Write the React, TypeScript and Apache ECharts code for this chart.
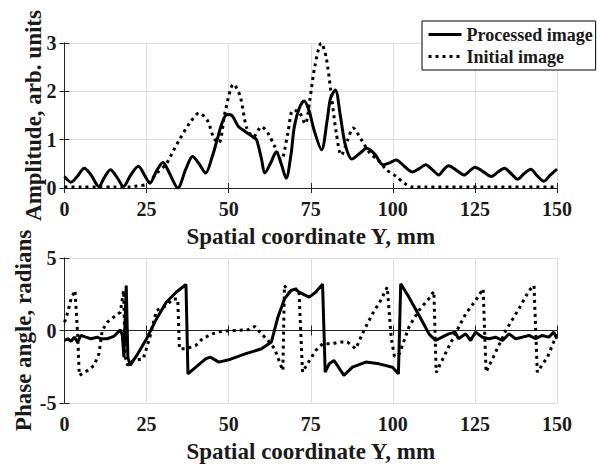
import React, { useEffect, useRef } from "react";
import * as echarts from "echarts";

// Amplitude (top panel): [Y mm, amplitude]
const ampProcessed: number[][] = [
  [0, 0.24], [2, 0.12], [4, 0.25], [6, 0.41], [8, 0.28], [10.5, 0.03], [12, 0.2], [14, 0.38], [16, 0.22],
  [18, 0.03], [20, 0.25], [22.5, 0.45], [24.5, 0.25], [26, 0.1], [28, 0.35], [30, 0.53], [32, 0.3],
  [34.5, 0.0], [37, 0.4], [39, 0.65], [41, 0.5], [43, 0.31], [45, 0.65], [46.5, 1.0], [48, 1.35],
  [49.5, 1.52], [51, 1.5], [53, 1.27], [55, 1.17], [57.5, 1.05], [58.5, 1.0], [60, 0.6], [61, 0.31],
  [63, 0.55], [64.5, 0.75], [66, 0.5], [67.5, 0.2], [69, 0.7], [70, 1.27], [71.5, 1.65], [73, 1.8],
  [74.5, 1.6], [76, 1.2], [78.3, 0.79], [80, 1.4], [81, 1.85], [82.5, 2.03], [84, 1.5], [85.5, 0.9],
  [87.5, 0.6], [90, 0.72], [92, 0.82], [94.5, 0.7], [97, 0.48], [99, 0.52], [101, 0.58], [103.5, 0.45],
  [106, 0.33], [108, 0.4], [110, 0.48], [112, 0.38], [114, 0.27], [115.5, 0.38], [117, 0.46],
  [119.5, 0.36], [121.7, 0.27], [123.5, 0.36], [125, 0.43], [127.5, 0.34], [130, 0.24], [132, 0.33],
  [134, 0.41], [136, 0.3], [138, 0.18], [140, 0.3], [142, 0.39], [144, 0.25], [146, 0.14], [148, 0.27],
  [150, 0.39],
];
const ampInitial: number[][] = [
  [0, 0.02], [5, 0.02], [10, 0.02], [15, 0.02], [20, 0.02], [22, 0.04], [25, 0.08], [28, 0.3], [31, 0.5],
  [33, 0.75], [35, 1.0], [38, 1.33], [41, 1.55], [43.5, 1.4], [45.5, 1.03], [47, 0.93], [49, 1.6],
  [51.5, 2.15], [53.5, 1.9], [55.5, 1.24], [57.5, 1.06], [60, 1.27], [62, 1.13], [64, 0.86], [66, 0.58],
  [68, 1.13], [69.5, 1.6], [71, 1.6], [73.3, 1.33], [74.7, 1.82], [76.2, 2.5], [78.2, 3.0], [79.7, 2.7],
  [81.2, 1.96], [82.8, 1.13], [84.3, 0.68], [86.3, 1.0], [87.9, 1.24], [90.4, 1.0], [93, 0.72],
  [95.5, 0.58], [98, 0.38], [101, 0.24], [103.5, 0.1], [106, 0.02], [110, 0.02], [120, 0.02],
  [130, 0.02], [140, 0.02], [150, 0.02],
];

// Phase (bottom panel): [Y mm, radians]
const phaseProcessed: number[][] = [
  [0, -0.69], [1, -0.57], [2, -0.74], [3, -0.46], [4, -0.8], [5, -0.34], [6.5, -0.46], [8, -0.57],
  [10, -0.46], [11, -0.57], [13, -0.57], [15, -0.41], [17, 0.05], [17.6, -0.3], [18.1, -1.84],
  [18.8, 3.1], [19.3, -1.84], [20, -2.41], [22, -1.72], [25, -0.57], [28, 0.8], [31, 1.95], [34, 2.64],
  [37, 3.17], [37.6, -2.99], [40, -2.53], [43, -1.95], [44.5, -1.84], [47, -2.18], [50, -2.02],
  [55, -1.61], [60, -1.26], [63, -0.8], [65, 0.92], [67, 2.18], [69, 2.76], [70.4, 2.87], [71.4, 2.64],
  [74.5, 2.3], [76.5, 2.64], [78.6, 3.2], [79.4, -2.87], [80.6, -2.3], [82.1, -2.07], [85.1, -3.1],
  [87.7, -2.53], [91.8, -2.18], [95.8, -2.3], [99.9, -2.53], [101.7, -2.99], [102.4, 3.22],
  [104.9, 2.3], [108, 1.03], [111, -0.23], [113, -0.69], [115, -0.46], [117, -0.23], [119, -0.11],
  [120, -0.57], [122.2, -0.23], [123.7, -0.69], [125.2, -0.11], [127.3, -0.46], [129.3, -0.57],
  [131.3, -0.46], [133.4, -0.69], [135.4, -0.23], [137.4, -0.57], [139.4, -0.46], [141.5, -0.34],
  [143.5, -0.57], [145.5, -0.34], [147.5, -0.46], [149, -0.11], [150, -0.57],
];
const phaseInitial: number[][] = [
  [0, 0.57], [1, 1.26], [2, 2.18], [3.2, 2.76], [4, -0.23], [4.5, -3.1], [7, -2.76], [9, -2.41],
  [10.5, -1.6], [11.5, 0], [13, 0.57], [15, 0.92], [17, 1.26], [18, 2.76], [18.5, -1.84], [19.2, -2.4],
  [21, -2.07], [24, -1.95], [26, -0.46], [28, 1.38], [31, 1.72], [33, 2.18], [34.5, 2.18], [35, -1.26],
  [37, -1.26], [40, -1.03], [42, -0.57], [45, -0.23], [48, -0.05], [52, 0], [56, 0.05], [58, 0.28],
  [60, -0.23], [62, -0.69], [64, -1.26], [65.5, -2.18], [66.5, -2.76], [67, 3.1], [68.4, 2.64],
  [71, 2.87], [71.4, 2.76], [72.5, -2.87], [74, -2.3], [76.5, -1.38], [78.6, -0.92], [81.6, -0.92],
  [83.6, -0.8], [86.2, -0.8], [88.7, -1.26], [91.2, 0], [93.8, 1.15], [96.3, 2.07], [98.3, 2.99],
  [99.5, -0.5], [100.5, -1.8], [102, -1.6], [105, 0.3], [108, 1.4], [111, 2.2], [112.5, 2.7],
  [113.2, -2.9], [116, -1.6], [119, -0.23], [122.2, 1.15], [125.2, 2.07], [127.5, 2.87], [128.4, -2.87],
  [131.3, -1.5], [134.4, 0], [138.4, 1.49], [141.5, 2.76], [143, 3.1], [144, -2.87], [147.1, -1.84],
  [150, -0.23],
];

const xLabel = "Spatial coordinate Y, mm";
const ampLabel = "Amplitude, arb. units";
const phaseLabel = "Phase angle, radians";
const legendNames = ["Processed image", "Initial image"];

const FONT = "Liberation Serif";
const TXT = "#1a1a1a";
const BOX = "#262626";

export default function App() {
  const ref = useRef<HTMLDivElement>(null);
  useEffect(() => {
    if (!ref.current) return;
    const chart = echarts.init(ref.current, undefined, { renderer: "svg" });
    const tickLabel = { fontFamily: FONT, fontWeight: "bold" as const, fontSize: 20, color: TXT };
    const nameStyle = { fontFamily: FONT, fontWeight: "bold" as const, fontSize: 23, color: TXT };
    const mainX = (gi: number) => ({
      type: "value", gridIndex: gi, min: 0, max: 150, interval: 25, position: "bottom",
      name: xLabel, nameLocation: "middle", nameGap: 37, nameTextStyle: nameStyle,
      axisLine: { show: true, lineStyle: { color: BOX, width: 1 } },
      axisTick: { show: true, inside: true, length: 5, lineStyle: { color: BOX } },
      axisLabel: { ...tickLabel, margin: 11 },
      splitLine: { show: true, lineStyle: { color: "#dedede", width: 1 } },
    });
    const topX = (gi: number) => ({
      type: "value", gridIndex: gi, min: 0, max: 150, interval: 25, position: "top",
      axisLine: { show: true, lineStyle: { color: BOX, width: 1 } },
      axisTick: { show: true, inside: true, length: 5, lineStyle: { color: BOX } },
      axisLabel: { show: false }, splitLine: { show: false },
    });
    const mainY = (gi: number, min: number, max: number, interval: number, name: string, gap: number) => ({
      type: "value", gridIndex: gi, min, max, interval, position: "left",
      name, nameLocation: "middle", nameGap: gap, nameMoveOverlap: false, nameTextStyle: nameStyle,
      axisLine: { show: true, lineStyle: { color: BOX, width: 1 } },
      axisTick: { show: true, inside: true, length: 5, lineStyle: { color: BOX } },
      axisLabel: { ...tickLabel, margin: 8 },
      splitLine: { show: true, lineStyle: { color: "#dedede", width: 1 } },
    });
    const rightY = (gi: number, min: number, max: number, interval: number) => ({
      type: "value", gridIndex: gi, min, max, interval, position: "right",
      axisLine: { show: true, lineStyle: { color: BOX, width: 1 } },
      axisTick: { show: true, inside: true, length: 5, lineStyle: { color: BOX } },
      axisLabel: { show: false }, splitLine: { show: false },
    });
    const solid = { color: "#000", width: 3, type: "solid" as const };
    const dotted = { color: "#000", width: 3, type: [3, 4], cap: "butt" as const };
    chart.setOption({
      animation: false,
      backgroundColor: "#fff",
      grid: [
        { left: 64.5, top: 43, width: 492.5, height: 145 },
        { left: 64.5, top: 258, width: 492.5, height: 145 },
      ],
      xAxis: [mainX(0), topX(0), mainX(1), topX(1)],
      yAxis: [
        mainY(0, 0, 3, 1, ampLabel, 20),
        rightY(0, 0, 3, 1),
        mainY(1, -5, 5, 5, phaseLabel, 30),
        rightY(1, -5, 5, 5),
      ],
      legend: {
        data: legendNames,
        orient: "vertical",
        left: 422,
        top: 21,
        itemWidth: 33,
        itemHeight: 3,
        itemGap: 3,
        padding: [4, 3, 4, 5],
        backgroundColor: "#fff",
        borderColor: "#000",
        borderWidth: 1,
        borderRadius: 0,
        itemStyle: { opacity: 0 },
        lineStyle: { width: 3 },
        textStyle: { fontFamily: FONT, fontWeight: "bold", fontSize: 18, color: TXT, lineHeight: 19 },
      },
      series: [
        {
          name: legendNames[0], type: "line", xAxisIndex: 0, yAxisIndex: 0, data: ampProcessed,
          showSymbol: false, symbol: "none", smooth: 0.3, lineStyle: solid, itemStyle: { color: "#000" }, z: 3,
        },
        {
          name: legendNames[1], type: "line", xAxisIndex: 0, yAxisIndex: 0, data: ampInitial,
          showSymbol: false, symbol: "none", smooth: 0.3, lineStyle: dotted, itemStyle: { color: "#000" }, z: 2,
        },
        {
          name: "Processed image phase", type: "line", xAxisIndex: 2, yAxisIndex: 2, data: phaseProcessed,
          showSymbol: false, symbol: "none", lineStyle: solid, itemStyle: { color: "#000" }, z: 3,
        },
        {
          name: "Initial image phase", type: "line", xAxisIndex: 2, yAxisIndex: 2, data: phaseInitial,
          showSymbol: false, symbol: "none", lineStyle: dotted, itemStyle: { color: "#000" }, z: 2,
        },
      ],
    });
    return () => chart.dispose();
  }, []);
  return (
    <div
      ref={ref}
      style={{ position: "absolute", left: 0, top: 0, width: 597, height: 466, background: "#fff" }}
    />
  );
}
